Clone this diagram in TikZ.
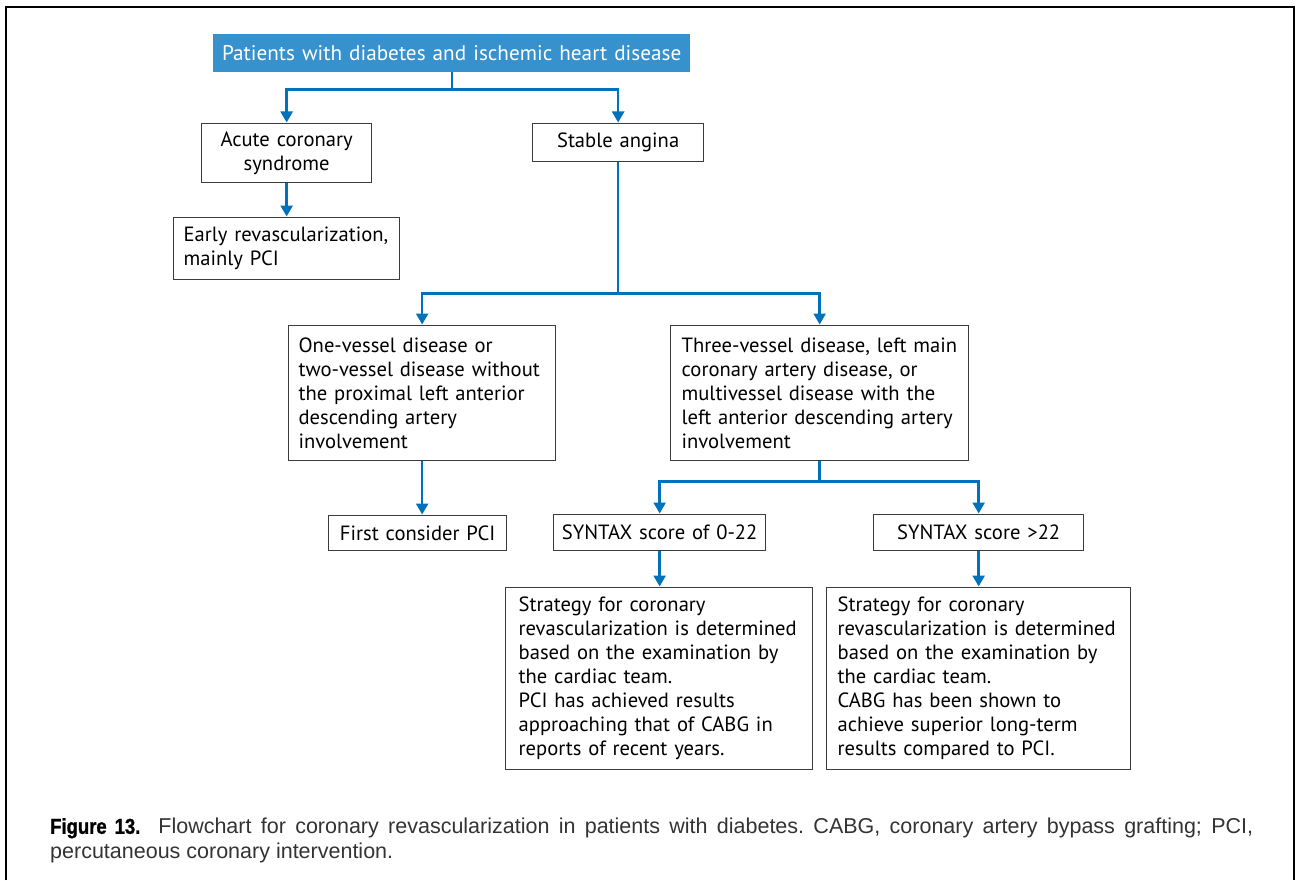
\documentclass[tikz,border=0pt]{standalone}
\usepackage{fontspec}
\setmainfont{PT Sans}
\newfontfamily\capfont{Liberation Sans}
\newfontfamily\caplabelfont[FakeStretch=0.86,FakeBold=1.2]{Liberation Sans Bold}
\usetikzlibrary{arrows.meta}

\definecolor{headblue}{RGB}{54,145,205}
\definecolor{linkblue}{RGB}{0,114,188}
\definecolor{boxgray}{RGB}{60,60,60}

\newcommand{\bodyfont}{\fontsize{20.6}{24}\selectfont\hyphenpenalty=10000\relax}
\newcommand{\headfont}{\fontsize{21.2}{24}\selectfont}
\newcommand{\captionfont}{\capfont\fontsize{21.5}{24.5}\selectfont\frenchspacing\hyphenpenalty=10000\relax}

\begin{document}
\begin{tikzpicture}[x=1pt,y=-1pt,
  base/.style={draw=boxgray, line width=1.3pt, font=\bodyfont, inner ysep=0pt, anchor=north west},
  lbox/.style={base, align=left},
  cbox/.style={base, align=center},
  headbox/.style={fill=headblue, text=white, font=\headfont, align=center, inner ysep=0pt, inner xsep=6pt, anchor=north west},
  link/.style={draw=linkblue, line width=2.4pt},
  arrowlink/.style={link, -{Triangle[width=12pt,length=11pt]}, shorten >=0.5pt},
]
\useasboundingbox (0,0) rectangle (1297,880);

% outer frame, open at the bottom
\draw[line width=2.8pt, black] (6,880) -- (6,7) -- (1294,7) -- (1294,880);

% boxes
\node[headbox, text width=465pt, minimum height=38pt] (head) at (213,34)
  {Patients with diabetes and ischemic heart disease};
\node[cbox, inner xsep=6pt, text width=158pt, minimum height=59pt] (acs) at (201,123)
  {Acute coronary\\syndrome};
\node[cbox, inner xsep=6pt, text width=159pt, minimum height=38pt] (stable) at (532,123)
  {Stable angina};
\node[lbox, inner xsep=10pt, text width=206pt, minimum height=62pt] (early) at (173,217)
  {\mbox{Early revascularization,}\\mainly PCI};
\node[lbox, inner xsep=10pt, text width=247pt, minimum height=135pt] (one) at (288,325)
  {One-vessel disease or\\two-vessel disease without\\the proximal left anterior\\descending artery\\involvement};
\node[lbox, inner xsep=11pt, text width=276pt, minimum height=135pt] (three) at (670,325)
  {Three-vessel disease, left main\\coronary artery disease, or\\multivessel disease with the\\left anterior descending artery\\involvement};
\node[cbox, inner xsep=6pt, text width=166pt, minimum height=35pt] (first) at (328,515)
  {First consider PCI};
\node[cbox, inner xsep=6pt, text width=200pt, minimum height=36pt] (synlow) at (553,514)
  {SYNTAX score of 0-22};
\node[cbox, inner xsep=6pt, text width=198pt, minimum height=36pt] (synhigh) at (873,514)
  {SYNTAX score >22};
\node[lbox, inner xsep=13pt, text width=281pt, minimum height=182pt] (stratlow) at (505,587)
  {Strategy for coronary\\revascularization is determined\\based on the examination by\\the cardiac team.\\PCI has achieved results\\approaching that of CABG in\\reports of recent years.};
\node[lbox, inner xsep=11pt, text width=282pt, minimum height=182pt] (strathigh) at (826,587)
  {Strategy for coronary\\revascularization is determined\\based on the examination by\\the cardiac team.\\CABG has been shown to\\achieve superior long-term\\results compared to PCI.};

% connectors
\draw[link] (head.south) -- ++(0,17) coordinate (split1);
\draw[arrowlink] (split1) -| (acs.north);
\draw[arrowlink] (split1) -| (stable.north);
\draw[arrowlink] (acs.south) -- (early.north -| acs.south);
\draw[link] (stable.south) -- ++(0,131) coordinate (split2);
\draw[arrowlink] (split2) -| (one.north);
\draw[arrowlink] (split2) -| (three.north);
\draw[arrowlink] (one.south) -- (first.north -| one.south);
\draw[link] (three.south) -- ++(0,20) coordinate (split3);
\draw[arrowlink] (split3) -| (synlow.north);
\draw[arrowlink] (split3) -| (synhigh.north);
\draw[arrowlink] (synlow.south) -- (stratlow.north -| synlow.south);
\draw[arrowlink] (synhigh.south) -- (strathigh.north -| synhigh.south);

% caption
\node[anchor=north west, inner sep=0pt, text width=1203pt, align=justify,
      font=\captionfont, text=black!80] (caption) at (50,818)
  {{\caplabelfont\color{black}Figure 13.}\hspace*{18pt}Flowchart for coronary revascularization in patients with diabetes. CABG, coronary artery bypass grafting; PCI,\linebreak percutaneous coronary intervention.};
\end{tikzpicture}
\end{document}
